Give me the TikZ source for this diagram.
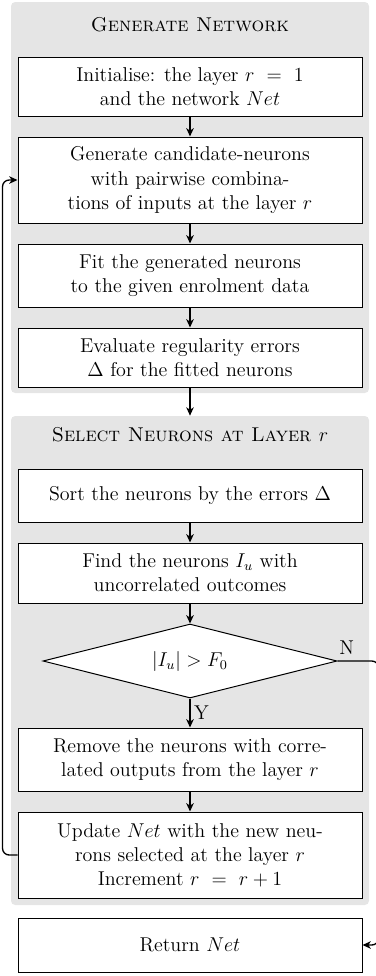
\documentclass[tikz,border=0pt]{standalone}
\usetikzlibrary{shapes.geometric,arrows.meta}
\begin{document}
\begin{tikzpicture}[x=0.6pt,y=-0.6pt,
  every node/.style={font=\fontsize{12}{14.5}\selectfont},
  group/.style={fill=black!10, rounded corners=2.5pt, draw=none, inner sep=0pt},
  stepbox/.style={draw, semithick, fill=white, minimum width=206.4pt, align=center, inner sep=2pt},
  title/.style={font=\fontsize{12}{14.5}\selectfont\scshape},
  arrow/.style={thick, -{Stealth[length=5pt,width=4.5pt,inset=1.5pt]}},
  decision/.style={draw, semithick, fill=white, shape=diamond, aspect=4, inner sep=0pt, minimum width=176.4pt, minimum height=44.4pt}
]
\useasboundingbox (0,0) rectangle (376,976);
% groups
\node[group, minimum width=214.8pt, minimum height=234.6pt] (g1) at (190,197.5) {};
\node[group, minimum width=214.8pt, minimum height=293.4pt] (g2) at (190,660.5) {};
\node[title] (t1) at (190,25) {Generate Network};
\node[title] (t2) at (190,435) {Select Neurons at Layer $r$};
% boxes
\node[stepbox, minimum height=35.4pt] (b1) at (190,86.5) {Initialise: the layer $r\ =\ 1$\\ and the network $Net$};
\node[stepbox, minimum height=51.6pt] (b2) at (190,180) {Generate candidate-neurons\\ with pairwise combina-\\ tions of inputs at the layer $r$};
\node[stepbox, minimum height=37.8pt] (b3) at (190,275.5) {Fit the generated neurons\\ to the given enrolment data};
\node[stepbox, minimum height=35.4pt] (b4) at (190,357.5) {Evaluate regularity errors\\ $\Delta$ for the fitted neurons};
\node[stepbox, minimum height=31.8pt] (b5) at (190,495.5) {Sort the neurons by the errors $\Delta$};
\node[stepbox, minimum height=36pt] (b6) at (190,573) {Find the neurons $I_u$ with\\ uncorrelated outcomes};
\node[decision] (d) at (190,661) {$|I_u| > F_0$};
\node[stepbox, minimum height=37.8pt] (b7) at (190,759.5) {Remove the neurons with corre-\\ lated outputs from the layer $r$};
\node[stepbox, minimum height=51.6pt] (b8) at (190,855) {Update $Net$ with the new neu-\\ rons selected at the layer $r$\\ Increment $r\ =\ r + 1$};
\node[stepbox, minimum height=32.4pt] (b9) at (190,945) {Return $Net$};
% connectors
\draw[arrow] (b1) -- (b2);
\draw[arrow] (b2) -- (b3);
\draw[arrow] (b3) -- (b4);
\draw[arrow] (b4) -- (g2.north);
\draw[arrow] (b5) -- (b6);
\draw[arrow] (b6) -- (d);
\draw[arrow] (d) -- node[right, inner sep=2pt] {Y} (b7);
\draw[arrow] (b7) -- (b8);
\draw[arrow, rounded corners=4pt] (b8.west) -- ++(-15,0) |- (b2.west);
\draw[arrow, rounded corners=4pt] (d.east) -- ++(41,0) |- (b9.east);
\node[anchor=south, inner sep=1pt] (nlab) at ([xshift=5.5pt,yshift=3pt]d.east) {N};
\end{tikzpicture}
\end{document}
